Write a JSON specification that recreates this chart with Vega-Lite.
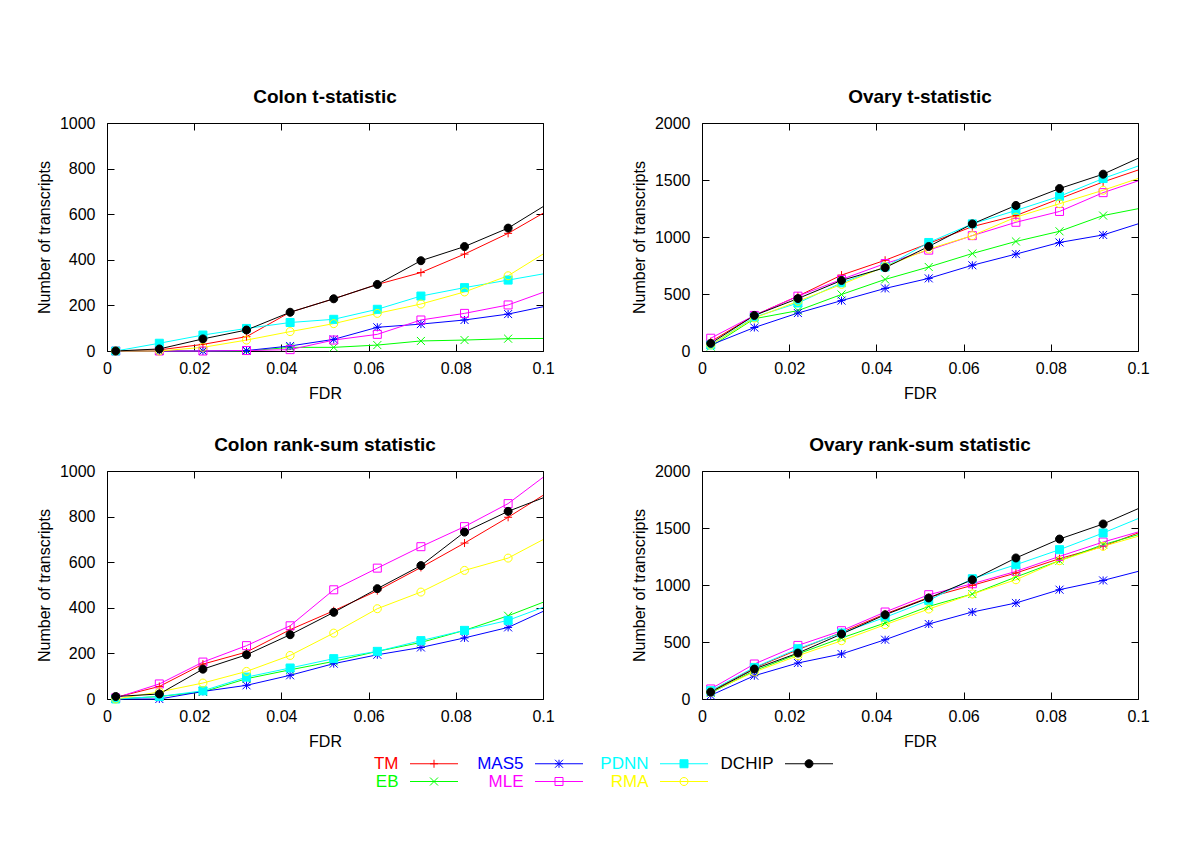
{
  "$schema": "https://vega.github.io/schema/vega-lite/v6.json",
  "background": "white",
  "padding": {"left": 35, "top": 87, "right": 5, "bottom": 5},
  "datasets": {
    "d": [
      {"panel":"CT","method":"TM","fdr":0.002,"n":0},{"panel":"CT","method":"TM","fdr":0.012,"n":5},{"panel":"CT","method":"TM","fdr":0.022,"n":29},{"panel":"CT","method":"TM","fdr":0.032,"n":63},{"panel":"CT","method":"TM","fdr":0.042,"n":170},{"panel":"CT","method":"TM","fdr":0.052,"n":229},{"panel":"CT","method":"TM","fdr":0.062,"n":292},{"panel":"CT","method":"TM","fdr":0.072,"n":344},{"panel":"CT","method":"TM","fdr":0.082,"n":425},{"panel":"CT","method":"TM","fdr":0.092,"n":516},{"panel":"CT","method":"TM","fdr":0.1,"n":604},
      {"panel":"CT","method":"EB","fdr":0.002,"n":0},{"panel":"CT","method":"EB","fdr":0.012,"n":0},{"panel":"CT","method":"EB","fdr":0.022,"n":0},{"panel":"CT","method":"EB","fdr":0.032,"n":0},{"panel":"CT","method":"EB","fdr":0.042,"n":16},{"panel":"CT","method":"EB","fdr":0.052,"n":16},{"panel":"CT","method":"EB","fdr":0.062,"n":26},{"panel":"CT","method":"EB","fdr":0.072,"n":44},{"panel":"CT","method":"EB","fdr":0.082,"n":48},{"panel":"CT","method":"EB","fdr":0.092,"n":54},{"panel":"CT","method":"EB","fdr":0.1,"n":55},
      {"panel":"CT","method":"MAS5","fdr":0.002,"n":0},{"panel":"CT","method":"MAS5","fdr":0.012,"n":0},{"panel":"CT","method":"MAS5","fdr":0.022,"n":0},{"panel":"CT","method":"MAS5","fdr":0.032,"n":2},{"panel":"CT","method":"MAS5","fdr":0.042,"n":22},{"panel":"CT","method":"MAS5","fdr":0.052,"n":51},{"panel":"CT","method":"MAS5","fdr":0.062,"n":104},{"panel":"CT","method":"MAS5","fdr":0.072,"n":118},{"panel":"CT","method":"MAS5","fdr":0.082,"n":136},{"panel":"CT","method":"MAS5","fdr":0.092,"n":162},{"panel":"CT","method":"MAS5","fdr":0.1,"n":194},
      {"panel":"CT","method":"MLE","fdr":0.002,"n":0},{"panel":"CT","method":"MLE","fdr":0.012,"n":0},{"panel":"CT","method":"MLE","fdr":0.022,"n":0},{"panel":"CT","method":"MLE","fdr":0.032,"n":2},{"panel":"CT","method":"MLE","fdr":0.042,"n":6},{"panel":"CT","method":"MLE","fdr":0.052,"n":48},{"panel":"CT","method":"MLE","fdr":0.062,"n":73},{"panel":"CT","method":"MLE","fdr":0.072,"n":136},{"panel":"CT","method":"MLE","fdr":0.082,"n":165},{"panel":"CT","method":"MLE","fdr":0.092,"n":202},{"panel":"CT","method":"MLE","fdr":0.1,"n":257},
      {"panel":"CT","method":"PDNN","fdr":0.002,"n":0},{"panel":"CT","method":"PDNN","fdr":0.012,"n":34},{"panel":"CT","method":"PDNN","fdr":0.022,"n":70},{"panel":"CT","method":"PDNN","fdr":0.032,"n":99},{"panel":"CT","method":"PDNN","fdr":0.042,"n":125},{"panel":"CT","method":"PDNN","fdr":0.052,"n":139},{"panel":"CT","method":"PDNN","fdr":0.062,"n":183},{"panel":"CT","method":"PDNN","fdr":0.072,"n":241},{"panel":"CT","method":"PDNN","fdr":0.082,"n":278},{"panel":"CT","method":"PDNN","fdr":0.092,"n":311},{"panel":"CT","method":"PDNN","fdr":0.1,"n":338},
      {"panel":"CT","method":"RMA","fdr":0.002,"n":0},{"panel":"CT","method":"RMA","fdr":0.012,"n":0},{"panel":"CT","method":"RMA","fdr":0.022,"n":16},{"panel":"CT","method":"RMA","fdr":0.032,"n":48},{"panel":"CT","method":"RMA","fdr":0.042,"n":85},{"panel":"CT","method":"RMA","fdr":0.052,"n":120},{"panel":"CT","method":"RMA","fdr":0.062,"n":165},{"panel":"CT","method":"RMA","fdr":0.072,"n":206},{"panel":"CT","method":"RMA","fdr":0.082,"n":259},{"panel":"CT","method":"RMA","fdr":0.092,"n":330},{"panel":"CT","method":"RMA","fdr":0.1,"n":425},
      {"panel":"CT","method":"DCHIP","fdr":0.002,"n":0},{"panel":"CT","method":"DCHIP","fdr":0.012,"n":9},{"panel":"CT","method":"DCHIP","fdr":0.022,"n":53},{"panel":"CT","method":"DCHIP","fdr":0.032,"n":92},{"panel":"CT","method":"DCHIP","fdr":0.042,"n":170},{"panel":"CT","method":"DCHIP","fdr":0.052,"n":229},{"panel":"CT","method":"DCHIP","fdr":0.062,"n":292},{"panel":"CT","method":"DCHIP","fdr":0.072,"n":396},{"panel":"CT","method":"DCHIP","fdr":0.082,"n":458},{"panel":"CT","method":"DCHIP","fdr":0.092,"n":539},{"panel":"CT","method":"DCHIP","fdr":0.1,"n":633},

      {"panel":"OT","method":"TM","fdr":0.002,"n":82},{"panel":"OT","method":"TM","fdr":0.012,"n":312},{"panel":"OT","method":"TM","fdr":0.022,"n":481},{"panel":"OT","method":"TM","fdr":0.032,"n":666},{"panel":"OT","method":"TM","fdr":0.042,"n":796},{"panel":"OT","method":"TM","fdr":0.052,"n":944},{"panel":"OT","method":"TM","fdr":0.062,"n":1091},{"panel":"OT","method":"TM","fdr":0.072,"n":1188},{"panel":"OT","method":"TM","fdr":0.082,"n":1336},{"panel":"OT","method":"TM","fdr":0.092,"n":1483},{"panel":"OT","method":"TM","fdr":0.1,"n":1587},
      {"panel":"OT","method":"EB","fdr":0.002,"n":38},{"panel":"OT","method":"EB","fdr":0.012,"n":283},{"panel":"OT","method":"EB","fdr":0.022,"n":354},{"panel":"OT","method":"EB","fdr":0.032,"n":496},{"panel":"OT","method":"EB","fdr":0.042,"n":628},{"panel":"OT","method":"EB","fdr":0.052,"n":737},{"panel":"OT","method":"EB","fdr":0.062,"n":855},{"panel":"OT","method":"EB","fdr":0.072,"n":961},{"panel":"OT","method":"EB","fdr":0.082,"n":1050},{"panel":"OT","method":"EB","fdr":0.092,"n":1188},{"panel":"OT","method":"EB","fdr":0.1,"n":1248},
      {"panel":"OT","method":"MAS5","fdr":0.002,"n":53},{"panel":"OT","method":"MAS5","fdr":0.012,"n":206},{"panel":"OT","method":"MAS5","fdr":0.022,"n":333},{"panel":"OT","method":"MAS5","fdr":0.032,"n":442},{"panel":"OT","method":"MAS5","fdr":0.042,"n":549},{"panel":"OT","method":"MAS5","fdr":0.052,"n":637},{"panel":"OT","method":"MAS5","fdr":0.062,"n":752},{"panel":"OT","method":"MAS5","fdr":0.072,"n":850},{"panel":"OT","method":"MAS5","fdr":0.082,"n":952},{"panel":"OT","method":"MAS5","fdr":0.092,"n":1018},{"panel":"OT","method":"MAS5","fdr":0.1,"n":1115},
      {"panel":"OT","method":"MLE","fdr":0.002,"n":112},{"panel":"OT","method":"MLE","fdr":0.012,"n":312},{"panel":"OT","method":"MLE","fdr":0.022,"n":481},{"panel":"OT","method":"MLE","fdr":0.032,"n":628},{"panel":"OT","method":"MLE","fdr":0.042,"n":767},{"panel":"OT","method":"MLE","fdr":0.052,"n":885},{"panel":"OT","method":"MLE","fdr":0.062,"n":1012},{"panel":"OT","method":"MLE","fdr":0.072,"n":1129},{"panel":"OT","method":"MLE","fdr":0.082,"n":1224},{"panel":"OT","method":"MLE","fdr":0.092,"n":1389},{"panel":"OT","method":"MLE","fdr":0.1,"n":1492},
      {"panel":"OT","method":"PDNN","fdr":0.002,"n":53},{"panel":"OT","method":"PDNN","fdr":0.012,"n":297},{"panel":"OT","method":"PDNN","fdr":0.022,"n":421},{"panel":"OT","method":"PDNN","fdr":0.032,"n":598},{"panel":"OT","method":"PDNN","fdr":0.042,"n":737},{"panel":"OT","method":"PDNN","fdr":0.052,"n":952},{"panel":"OT","method":"PDNN","fdr":0.062,"n":1115},{"panel":"OT","method":"PDNN","fdr":0.072,"n":1233},{"panel":"OT","method":"PDNN","fdr":0.082,"n":1357},{"panel":"OT","method":"PDNN","fdr":0.092,"n":1513},{"panel":"OT","method":"PDNN","fdr":0.1,"n":1622},
      {"panel":"OT","method":"RMA","fdr":0.002,"n":53},{"panel":"OT","method":"RMA","fdr":0.012,"n":289},{"panel":"OT","method":"RMA","fdr":0.022,"n":436},{"panel":"OT","method":"RMA","fdr":0.032,"n":584},{"panel":"OT","method":"RMA","fdr":0.042,"n":740},{"panel":"OT","method":"RMA","fdr":0.052,"n":894},{"panel":"OT","method":"RMA","fdr":0.062,"n":1012},{"panel":"OT","method":"RMA","fdr":0.072,"n":1174},{"panel":"OT","method":"RMA","fdr":0.082,"n":1292},{"panel":"OT","method":"RMA","fdr":0.092,"n":1410},{"panel":"OT","method":"RMA","fdr":0.1,"n":1513},
      {"panel":"OT","method":"DCHIP","fdr":0.002,"n":67},{"panel":"OT","method":"DCHIP","fdr":0.012,"n":312},{"panel":"OT","method":"DCHIP","fdr":0.022,"n":460},{"panel":"OT","method":"DCHIP","fdr":0.032,"n":619},{"panel":"OT","method":"DCHIP","fdr":0.042,"n":731},{"panel":"OT","method":"DCHIP","fdr":0.052,"n":917},{"panel":"OT","method":"DCHIP","fdr":0.062,"n":1115},{"panel":"OT","method":"DCHIP","fdr":0.072,"n":1277},{"panel":"OT","method":"DCHIP","fdr":0.082,"n":1425},{"panel":"OT","method":"DCHIP","fdr":0.092,"n":1551},{"panel":"OT","method":"DCHIP","fdr":0.1,"n":1690},

      {"panel":"CR","method":"TM","fdr":0.002,"n":7},{"panel":"CR","method":"TM","fdr":0.012,"n":55},{"panel":"CR","method":"TM","fdr":0.022,"n":153},{"panel":"CR","method":"TM","fdr":0.032,"n":206},{"panel":"CR","method":"TM","fdr":0.042,"n":304},{"panel":"CR","method":"TM","fdr":0.052,"n":387},{"panel":"CR","method":"TM","fdr":0.062,"n":475},{"panel":"CR","method":"TM","fdr":0.072,"n":577},{"panel":"CR","method":"TM","fdr":0.082,"n":684},{"panel":"CR","method":"TM","fdr":0.092,"n":797},{"panel":"CR","method":"TM","fdr":0.1,"n":893},
      {"panel":"CR","method":"EB","fdr":0.002,"n":0},{"panel":"CR","method":"EB","fdr":0.012,"n":11},{"panel":"CR","method":"EB","fdr":0.022,"n":31},{"panel":"CR","method":"EB","fdr":0.032,"n":89},{"panel":"CR","method":"EB","fdr":0.042,"n":128},{"panel":"CR","method":"EB","fdr":0.052,"n":165},{"panel":"CR","method":"EB","fdr":0.062,"n":209},{"panel":"CR","method":"EB","fdr":0.072,"n":248},{"panel":"CR","method":"EB","fdr":0.082,"n":301},{"panel":"CR","method":"EB","fdr":0.092,"n":365},{"panel":"CR","method":"EB","fdr":0.1,"n":424},
      {"panel":"CR","method":"MAS5","fdr":0.002,"n":0},{"panel":"CR","method":"MAS5","fdr":0.012,"n":0},{"panel":"CR","method":"MAS5","fdr":0.022,"n":33},{"panel":"CR","method":"MAS5","fdr":0.032,"n":60},{"panel":"CR","method":"MAS5","fdr":0.042,"n":104},{"panel":"CR","method":"MAS5","fdr":0.052,"n":155},{"panel":"CR","method":"MAS5","fdr":0.062,"n":194},{"panel":"CR","method":"MAS5","fdr":0.072,"n":226},{"panel":"CR","method":"MAS5","fdr":0.082,"n":268},{"panel":"CR","method":"MAS5","fdr":0.092,"n":314},{"panel":"CR","method":"MAS5","fdr":0.1,"n":384},
      {"panel":"CR","method":"MLE","fdr":0.002,"n":5},{"panel":"CR","method":"MLE","fdr":0.012,"n":66},{"panel":"CR","method":"MLE","fdr":0.022,"n":162},{"panel":"CR","method":"MLE","fdr":0.032,"n":234},{"panel":"CR","method":"MLE","fdr":0.042,"n":321},{"panel":"CR","method":"MLE","fdr":0.052,"n":479},{"panel":"CR","method":"MLE","fdr":0.062,"n":574},{"panel":"CR","method":"MLE","fdr":0.072,"n":668},{"panel":"CR","method":"MLE","fdr":0.082,"n":756},{"panel":"CR","method":"MLE","fdr":0.092,"n":857},{"panel":"CR","method":"MLE","fdr":0.1,"n":972},
      {"panel":"CR","method":"PDNN","fdr":0.002,"n":0},{"panel":"CR","method":"PDNN","fdr":0.012,"n":11},{"panel":"CR","method":"PDNN","fdr":0.022,"n":36},{"panel":"CR","method":"PDNN","fdr":0.032,"n":96},{"panel":"CR","method":"PDNN","fdr":0.042,"n":136},{"panel":"CR","method":"PDNN","fdr":0.052,"n":177},{"panel":"CR","method":"PDNN","fdr":0.062,"n":209},{"panel":"CR","method":"PDNN","fdr":0.072,"n":256},{"panel":"CR","method":"PDNN","fdr":0.082,"n":301},{"panel":"CR","method":"PDNN","fdr":0.092,"n":345},{"panel":"CR","method":"PDNN","fdr":0.1,"n":402},
      {"panel":"CR","method":"RMA","fdr":0.002,"n":0},{"panel":"CR","method":"RMA","fdr":0.012,"n":31},{"panel":"CR","method":"RMA","fdr":0.022,"n":70},{"panel":"CR","method":"RMA","fdr":0.032,"n":121},{"panel":"CR","method":"RMA","fdr":0.042,"n":191},{"panel":"CR","method":"RMA","fdr":0.052,"n":289},{"panel":"CR","method":"RMA","fdr":0.062,"n":396},{"panel":"CR","method":"RMA","fdr":0.072,"n":469},{"panel":"CR","method":"RMA","fdr":0.082,"n":564},{"panel":"CR","method":"RMA","fdr":0.092,"n":618},{"panel":"CR","method":"RMA","fdr":0.1,"n":699},
      {"panel":"CR","method":"DCHIP","fdr":0.002,"n":11},{"panel":"CR","method":"DCHIP","fdr":0.012,"n":22},{"panel":"CR","method":"DCHIP","fdr":0.022,"n":131},{"panel":"CR","method":"DCHIP","fdr":0.032,"n":194},{"panel":"CR","method":"DCHIP","fdr":0.042,"n":282},{"panel":"CR","method":"DCHIP","fdr":0.052,"n":380},{"panel":"CR","method":"DCHIP","fdr":0.062,"n":484},{"panel":"CR","method":"DCHIP","fdr":0.072,"n":585},{"panel":"CR","method":"DCHIP","fdr":0.082,"n":732},{"panel":"CR","method":"DCHIP","fdr":0.092,"n":823},{"panel":"CR","method":"DCHIP","fdr":0.1,"n":882},

      {"panel":"OR","method":"TM","fdr":0.002,"n":67},{"panel":"OR","method":"TM","fdr":0.012,"n":272},{"panel":"OR","method":"TM","fdr":0.022,"n":432},{"panel":"OR","method":"TM","fdr":0.032,"n":584},{"panel":"OR","method":"TM","fdr":0.042,"n":746},{"panel":"OR","method":"TM","fdr":0.052,"n":891},{"panel":"OR","method":"TM","fdr":0.062,"n":997},{"panel":"OR","method":"TM","fdr":0.072,"n":1105},{"panel":"OR","method":"TM","fdr":0.082,"n":1231},{"panel":"OR","method":"TM","fdr":0.092,"n":1339},{"panel":"OR","method":"TM","fdr":0.1,"n":1456},
      {"panel":"OR","method":"EB","fdr":0.002,"n":53},{"panel":"OR","method":"EB","fdr":0.012,"n":248},{"panel":"OR","method":"EB","fdr":0.022,"n":395},{"panel":"OR","method":"EB","fdr":0.032,"n":535},{"panel":"OR","method":"EB","fdr":0.042,"n":667},{"panel":"OR","method":"EB","fdr":0.052,"n":812},{"panel":"OR","method":"EB","fdr":0.062,"n":921},{"panel":"OR","method":"EB","fdr":0.072,"n":1070},{"panel":"OR","method":"EB","fdr":0.082,"n":1213},{"panel":"OR","method":"EB","fdr":0.092,"n":1354},{"panel":"OR","method":"EB","fdr":0.1,"n":1441},
      {"panel":"OR","method":"MAS5","fdr":0.002,"n":32},{"panel":"OR","method":"MAS5","fdr":0.012,"n":204},{"panel":"OR","method":"MAS5","fdr":0.022,"n":316},{"panel":"OR","method":"MAS5","fdr":0.032,"n":395},{"panel":"OR","method":"MAS5","fdr":0.042,"n":520},{"panel":"OR","method":"MAS5","fdr":0.052,"n":658},{"panel":"OR","method":"MAS5","fdr":0.062,"n":763},{"panel":"OR","method":"MAS5","fdr":0.072,"n":842},{"panel":"OR","method":"MAS5","fdr":0.082,"n":959},{"panel":"OR","method":"MAS5","fdr":0.092,"n":1040},{"panel":"OR","method":"MAS5","fdr":0.1,"n":1119},
      {"panel":"OR","method":"MLE","fdr":0.002,"n":88},{"panel":"OR","method":"MLE","fdr":0.012,"n":307},{"panel":"OR","method":"MLE","fdr":0.022,"n":470},{"panel":"OR","method":"MLE","fdr":0.032,"n":599},{"panel":"OR","method":"MLE","fdr":0.042,"n":763},{"panel":"OR","method":"MLE","fdr":0.052,"n":915},{"panel":"OR","method":"MLE","fdr":0.062,"n":1011},{"panel":"OR","method":"MLE","fdr":0.072,"n":1119},{"panel":"OR","method":"MLE","fdr":0.082,"n":1251},{"panel":"OR","method":"MLE","fdr":0.092,"n":1377},{"panel":"OR","method":"MLE","fdr":0.1,"n":1465},
      {"panel":"OR","method":"PDNN","fdr":0.002,"n":73},{"panel":"OR","method":"PDNN","fdr":0.012,"n":277},{"panel":"OR","method":"PDNN","fdr":0.022,"n":441},{"panel":"OR","method":"PDNN","fdr":0.032,"n":579},{"panel":"OR","method":"PDNN","fdr":0.042,"n":716},{"panel":"OR","method":"PDNN","fdr":0.052,"n":865},{"panel":"OR","method":"PDNN","fdr":0.062,"n":1055},{"panel":"OR","method":"PDNN","fdr":0.072,"n":1178},{"panel":"OR","method":"PDNN","fdr":0.082,"n":1310},{"panel":"OR","method":"PDNN","fdr":0.092,"n":1456},{"panel":"OR","method":"PDNN","fdr":0.1,"n":1582},
      {"panel":"OR","method":"RMA","fdr":0.002,"n":61},{"panel":"OR","method":"RMA","fdr":0.012,"n":237},{"panel":"OR","method":"RMA","fdr":0.022,"n":380},{"panel":"OR","method":"RMA","fdr":0.032,"n":511},{"panel":"OR","method":"RMA","fdr":0.042,"n":652},{"panel":"OR","method":"RMA","fdr":0.052,"n":789},{"panel":"OR","method":"RMA","fdr":0.062,"n":921},{"panel":"OR","method":"RMA","fdr":0.072,"n":1046},{"panel":"OR","method":"RMA","fdr":0.082,"n":1213},{"panel":"OR","method":"RMA","fdr":0.092,"n":1339},{"panel":"OR","method":"RMA","fdr":0.1,"n":1427},
      {"panel":"OR","method":"DCHIP","fdr":0.002,"n":61},{"panel":"OR","method":"DCHIP","fdr":0.012,"n":263},{"panel":"OR","method":"DCHIP","fdr":0.022,"n":403},{"panel":"OR","method":"DCHIP","fdr":0.032,"n":570},{"panel":"OR","method":"DCHIP","fdr":0.042,"n":739},{"panel":"OR","method":"DCHIP","fdr":0.052,"n":886},{"panel":"OR","method":"DCHIP","fdr":0.062,"n":1046},{"panel":"OR","method":"DCHIP","fdr":0.072,"n":1237},{"panel":"OR","method":"DCHIP","fdr":0.082,"n":1403},{"panel":"OR","method":"DCHIP","fdr":0.092,"n":1535},{"panel":"OR","method":"DCHIP","fdr":0.1,"n":1669}
    ]
  },
  "data": {"name": "d"},
  "columns": 2,
  "bounds": "flush",
  "spacing": {"row": 120, "column": 159},
  "concat": [
    {
      "title": "Colon t-statistic",
      "width": 436, "height": 228,
      "transform": [{"filter": "datum.panel == 'CT'"}],
      "layer": [
        {"mark": {"type": "line", "strokeWidth": 1},
         "encoding": {
           "x": {"field": "fdr", "type": "quantitative", "scale": {"domain": [0, 0.1]}, "axis": {"orient": "bottom", "values": [0, 0.02, 0.04, 0.06, 0.08, 0.1], "format": "~g", "title": "FDR"}},
           "y": {"field": "n", "type": "quantitative", "scale": {"domain": [0, 1000]}, "axis": {"orient": "left", "values": [0, 200, 400, 600, 800, 1000], "format": "d", "title": "Number of transcripts"}},
           "color": {"field": "method", "type": "nominal", "scale": {"domain": ["TM","MAS5","PDNN","DCHIP","EB","MLE","RMA"], "range": ["#ff0000","#0000ff","#00ffff","#000000","#00ff00","#ff00ff","#ffff00"]},
             "legend": {"orient": "none", "legendX": 233, "legendY": 632, "direction": "horizontal", "columns": 4, "title": null, "labelFontSize": 17, "labelFont": "Liberation Sans", "symbolType": "M-6,0H6", "symbolSize": 64, "symbolStrokeWidth": 1, "labelAlign": "right", "labelOffset": -44, "symbolOffset": 85.5, "columnPadding": 5, "rowPadding": 0,
               "encode": {"labels": {"update": {"fill": {"scale": "color", "field": "value"}}}}}}
         }},
        {"transform": [{"filter": "datum.fdr < 0.1"}],
         "mark": {"type": "point", "size": 64, "strokeWidth": 1, "opacity": 1},
         "encoding": {
           "x": {"field": "fdr", "type": "quantitative", "scale": {"domain": [0, 0.1]}, "axis": {"orient": "top", "values": [0, 0.02, 0.04, 0.06, 0.08, 0.1], "labels": false, "title": null}},
           "y": {"field": "n", "type": "quantitative", "scale": {"domain": [0, 1000]}, "axis": {"orient": "right", "values": [0, 200, 400, 600, 800, 1000], "labels": false, "title": null}},
           "stroke": {"field": "method", "type": "nominal", "scale": {"domain": ["TM","MAS5","PDNN","DCHIP","EB","MLE","RMA"," "], "range": ["#ff0000","#0000ff","#00ffff","#000000","#00ff00","#ff00ff","#ffff00","transparent"]},
             "legend": {"orient": "none", "legendX": 233, "legendY": 632, "direction": "horizontal", "columns": 4, "title": null, "labelFontSize": 17, "labelFont": "Liberation Sans", "labelColor": "transparent", "labelOpacity": 0, "symbolSize": 64, "symbolStrokeWidth": 1, "labelAlign": "right", "labelOffset": -44, "symbolOffset": 85.5, "columnPadding": 25, "rowPadding": 0}},
           "shape": {"field": "method", "type": "nominal", "scale": {"domain": ["TM","MAS5","PDNN","DCHIP","EB","MLE","RMA"," "], "range": ["M-1,0H1M0,-1V1","M-1,0H1M0,-1V1M-1,-1L1,1M-1,1L1,-1","M-1,-1H1V1H-1Z","M1,0A1,1,0,1,1,-1,0A1,1,0,1,1,1,0Z","M-1,-1L1,1M-1,1L1,-1","M-1,-1H1V1H-1Z","M1,0A1,1,0,1,1,-1,0A1,1,0,1,1,1,0Z","M0,0"]},
             "legend": {"orient": "none", "legendX": 233, "legendY": 632, "direction": "horizontal", "columns": 4, "title": null, "labelFontSize": 17, "labelFont": "Liberation Sans", "labelColor": "transparent", "labelOpacity": 0, "symbolSize": 64, "symbolStrokeWidth": 1, "labelAlign": "right", "labelOffset": -44, "symbolOffset": 85.5, "columnPadding": 25, "rowPadding": 0}},
           "fill": {"field": "method", "type": "nominal", "scale": {"domain": ["TM","MAS5","PDNN","DCHIP","EB","MLE","RMA"," "], "range": ["transparent","transparent","#00ffff","#000000","transparent","transparent","transparent","transparent"]},
             "legend": {"orient": "none", "legendX": 233, "legendY": 632, "direction": "horizontal", "columns": 4, "title": null, "labelFontSize": 17, "labelFont": "Liberation Sans", "labelColor": "transparent", "labelOpacity": 0, "symbolSize": 64, "symbolStrokeWidth": 1, "labelAlign": "right", "labelOffset": -44, "symbolOffset": 85.5, "columnPadding": 25, "rowPadding": 0}}
         }}
      ],
      "resolve": {"axis": {"x": "independent", "y": "independent"}}
    },
    {
      "title": "Ovary t-statistic",
      "width": 436, "height": 228,
      "transform": [{"filter": "datum.panel == 'OT'"}],
      "layer": [
        {"mark": {"type": "line", "strokeWidth": 1},
         "encoding": {
           "x": {"field": "fdr", "type": "quantitative", "scale": {"domain": [0, 0.1]}, "axis": {"orient": "bottom", "values": [0, 0.02, 0.04, 0.06, 0.08, 0.1], "format": "~g", "title": "FDR"}},
           "y": {"field": "n", "type": "quantitative", "scale": {"domain": [0, 2000]}, "axis": {"orient": "left", "values": [0, 500, 1000, 1500, 2000], "format": "d", "title": "Number of transcripts"}},
           "color": {"field": "method", "type": "nominal", "scale": {"domain": ["TM","MAS5","PDNN","DCHIP","EB","MLE","RMA"], "range": ["#ff0000","#0000ff","#00ffff","#000000","#00ff00","#ff00ff","#ffff00"]}}
         }},
        {"transform": [{"filter": "datum.fdr < 0.1"}],
         "mark": {"type": "point", "size": 64, "strokeWidth": 1, "opacity": 1},
         "encoding": {
           "x": {"field": "fdr", "type": "quantitative", "scale": {"domain": [0, 0.1]}, "axis": {"orient": "top", "values": [0, 0.02, 0.04, 0.06, 0.08, 0.1], "labels": false, "title": null}},
           "y": {"field": "n", "type": "quantitative", "scale": {"domain": [0, 2000]}, "axis": {"orient": "right", "values": [0, 500, 1000, 1500, 2000], "labels": false, "title": null}},
           "stroke": {"field": "method", "type": "nominal", "scale": {"domain": ["TM","MAS5","PDNN","DCHIP","EB","MLE","RMA"," "], "range": ["#ff0000","#0000ff","#00ffff","#000000","#00ff00","#ff00ff","#ffff00","transparent"]}},
           "shape": {"field": "method", "type": "nominal", "scale": {"domain": ["TM","MAS5","PDNN","DCHIP","EB","MLE","RMA"," "], "range": ["M-1,0H1M0,-1V1","M-1,0H1M0,-1V1M-1,-1L1,1M-1,1L1,-1","M-1,-1H1V1H-1Z","M1,0A1,1,0,1,1,-1,0A1,1,0,1,1,1,0Z","M-1,-1L1,1M-1,1L1,-1","M-1,-1H1V1H-1Z","M1,0A1,1,0,1,1,-1,0A1,1,0,1,1,1,0Z","M0,0"]}},
           "fill": {"field": "method", "type": "nominal", "scale": {"domain": ["TM","MAS5","PDNN","DCHIP","EB","MLE","RMA"," "], "range": ["transparent","transparent","#00ffff","#000000","transparent","transparent","transparent","transparent"]}}
         }}
      ],
      "resolve": {"axis": {"x": "independent", "y": "independent"}}
    },
    {
      "title": "Colon rank-sum statistic",
      "width": 436, "height": 228,
      "transform": [{"filter": "datum.panel == 'CR'"}],
      "layer": [
        {"mark": {"type": "line", "strokeWidth": 1},
         "encoding": {
           "x": {"field": "fdr", "type": "quantitative", "scale": {"domain": [0, 0.1]}, "axis": {"orient": "bottom", "values": [0, 0.02, 0.04, 0.06, 0.08, 0.1], "format": "~g", "title": "FDR"}},
           "y": {"field": "n", "type": "quantitative", "scale": {"domain": [0, 1000]}, "axis": {"orient": "left", "values": [0, 200, 400, 600, 800, 1000], "format": "d", "title": "Number of transcripts"}},
           "color": {"field": "method", "type": "nominal", "scale": {"domain": ["TM","MAS5","PDNN","DCHIP","EB","MLE","RMA"], "range": ["#ff0000","#0000ff","#00ffff","#000000","#00ff00","#ff00ff","#ffff00"]}}
         }},
        {"transform": [{"filter": "datum.fdr < 0.1"}],
         "mark": {"type": "point", "size": 64, "strokeWidth": 1, "opacity": 1},
         "encoding": {
           "x": {"field": "fdr", "type": "quantitative", "scale": {"domain": [0, 0.1]}, "axis": {"orient": "top", "values": [0, 0.02, 0.04, 0.06, 0.08, 0.1], "labels": false, "title": null}},
           "y": {"field": "n", "type": "quantitative", "scale": {"domain": [0, 1000]}, "axis": {"orient": "right", "values": [0, 200, 400, 600, 800, 1000], "labels": false, "title": null}},
           "stroke": {"field": "method", "type": "nominal", "scale": {"domain": ["TM","MAS5","PDNN","DCHIP","EB","MLE","RMA"," "], "range": ["#ff0000","#0000ff","#00ffff","#000000","#00ff00","#ff00ff","#ffff00","transparent"]}},
           "shape": {"field": "method", "type": "nominal", "scale": {"domain": ["TM","MAS5","PDNN","DCHIP","EB","MLE","RMA"," "], "range": ["M-1,0H1M0,-1V1","M-1,0H1M0,-1V1M-1,-1L1,1M-1,1L1,-1","M-1,-1H1V1H-1Z","M1,0A1,1,0,1,1,-1,0A1,1,0,1,1,1,0Z","M-1,-1L1,1M-1,1L1,-1","M-1,-1H1V1H-1Z","M1,0A1,1,0,1,1,-1,0A1,1,0,1,1,1,0Z","M0,0"]}},
           "fill": {"field": "method", "type": "nominal", "scale": {"domain": ["TM","MAS5","PDNN","DCHIP","EB","MLE","RMA"," "], "range": ["transparent","transparent","#00ffff","#000000","transparent","transparent","transparent","transparent"]}}
         }}
      ],
      "resolve": {"axis": {"x": "independent", "y": "independent"}}
    },
    {
      "title": "Ovary rank-sum statistic",
      "width": 436, "height": 228,
      "transform": [{"filter": "datum.panel == 'OR'"}],
      "layer": [
        {"mark": {"type": "line", "strokeWidth": 1},
         "encoding": {
           "x": {"field": "fdr", "type": "quantitative", "scale": {"domain": [0, 0.1]}, "axis": {"orient": "bottom", "values": [0, 0.02, 0.04, 0.06, 0.08, 0.1], "format": "~g", "title": "FDR"}},
           "y": {"field": "n", "type": "quantitative", "scale": {"domain": [0, 2000]}, "axis": {"orient": "left", "values": [0, 500, 1000, 1500, 2000], "format": "d", "title": "Number of transcripts"}},
           "color": {"field": "method", "type": "nominal", "scale": {"domain": ["TM","MAS5","PDNN","DCHIP","EB","MLE","RMA"], "range": ["#ff0000","#0000ff","#00ffff","#000000","#00ff00","#ff00ff","#ffff00"]}}
         }},
        {"transform": [{"filter": "datum.fdr < 0.1"}],
         "mark": {"type": "point", "size": 64, "strokeWidth": 1, "opacity": 1},
         "encoding": {
           "x": {"field": "fdr", "type": "quantitative", "scale": {"domain": [0, 0.1]}, "axis": {"orient": "top", "values": [0, 0.02, 0.04, 0.06, 0.08, 0.1], "labels": false, "title": null}},
           "y": {"field": "n", "type": "quantitative", "scale": {"domain": [0, 2000]}, "axis": {"orient": "right", "values": [0, 500, 1000, 1500, 2000], "labels": false, "title": null}},
           "stroke": {"field": "method", "type": "nominal", "scale": {"domain": ["TM","MAS5","PDNN","DCHIP","EB","MLE","RMA"," "], "range": ["#ff0000","#0000ff","#00ffff","#000000","#00ff00","#ff00ff","#ffff00","transparent"]}},
           "shape": {"field": "method", "type": "nominal", "scale": {"domain": ["TM","MAS5","PDNN","DCHIP","EB","MLE","RMA"," "], "range": ["M-1,0H1M0,-1V1","M-1,0H1M0,-1V1M-1,-1L1,1M-1,1L1,-1","M-1,-1H1V1H-1Z","M1,0A1,1,0,1,1,-1,0A1,1,0,1,1,1,0Z","M-1,-1L1,1M-1,1L1,-1","M-1,-1H1V1H-1Z","M1,0A1,1,0,1,1,-1,0A1,1,0,1,1,1,0Z","M0,0"]}},
           "fill": {"field": "method", "type": "nominal", "scale": {"domain": ["TM","MAS5","PDNN","DCHIP","EB","MLE","RMA"," "], "range": ["transparent","transparent","#00ffff","#000000","transparent","transparent","transparent","transparent"]}}
         }}
      ],
      "resolve": {"axis": {"x": "independent", "y": "independent"}}
    }
  ],
  "config": {
    "font": "Liberation Sans",
    "view": {"stroke": "#000000", "strokeWidth": 1},
    "title": {"font": "Liberation Sans", "fontSize": 19, "fontWeight": "bold", "color": "#000000", "anchor": "middle", "offset": 8},
    "axis": {"grid": false, "domain": false, "ticks": true, "tickSize": -7, "tickColor": "#000000", "tickWidth": 1,
             "labelFont": "Liberation Sans", "labelFontSize": 16, "labelColor": "#000000", "labelFlush": false, "labelOverlap": false,
             "titleFont": "Liberation Sans", "titleFontSize": 16, "titleFontWeight": "normal", "titleColor": "#000000"},
    "axisX": {"labelPadding": 16, "titlePadding": 9},
    "axisY": {"labelPadding": 19, "titlePadding": 7}
  }
}
